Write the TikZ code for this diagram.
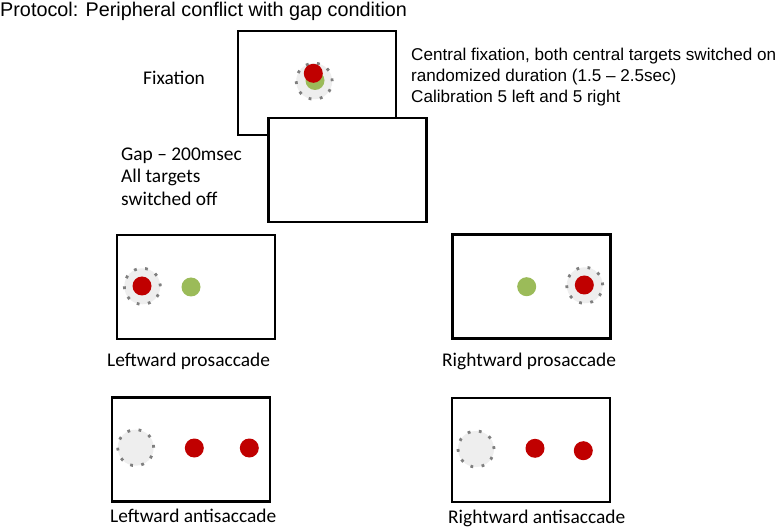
\documentclass[tikz,border=0pt]{standalone}
\usepackage{fontspec}
\setmainfont{Liberation Sans}
\newfontfamily\slidefont[Ligatures=TeX]{Carlito}
\usetikzlibrary{positioning}

\definecolor{tgtred}{HTML}{C00000}
\definecolor{tgtgreen}{HTML}{9BBB59}
\definecolor{spotgray}{HTML}{EEEEEE}
\definecolor{dotgray}{HTML}{7F7F7F}

\tikzset{
  screen/.style={draw, line width=2.8pt, fill=white, minimum width=158pt, minimum height=104pt, inner sep=0pt},
  redtgt/.style={circle, fill=tgtred, minimum size=19pt, inner sep=0pt},
  greentgt/.style={circle, fill=tgtgreen, minimum size=19pt, inner sep=0pt},
  gazespot/.style={circle, fill=spotgray, draw=dotgray, line width=2.8pt, dash pattern=on 2.8pt off 8.5pt, minimum size=36pt, inner sep=0pt},
  headline/.style={inner sep=0pt, anchor=base west, font=\fontsize{19.8}{24}\selectfont},
  notes/.style={inner sep=0pt, anchor=north west, align=left, font=\fontsize{17.1}{21}\selectfont},
  caption/.style={inner sep=0pt, anchor=base west, align=left, font=\slidefont\fontsize{19.4}{22.5}\selectfont}
}

\begin{document}
\begin{tikzpicture}[x=1pt,y=-1pt]
  \useasboundingbox (0,0) rectangle (777,529);

  \node[headline] (protocol) at (0,17) {Protocol: Peripheral conflict with gap condition};

  % fixation screen
  \node[screen] (fixscreen) at (317,83) {};
  \node[gazespot] (fixspot) at (314.2,81.2) {};
  \node[greentgt] (fixgreen) at (315,80.5) {};
  \node[redtgt] (fixred) at (313.3,73.3) {};
  \node[caption] (fixtext) at (143,85) {Fixation};
  \node[notes] (fixnotes) at (411,47.5) {Central fixation, both central targets switched on\\randomized duration (1.5 -- 2.5sec)\\Calibration 5 left and 5 right};

  % gap screen
  \node[screen] (gapscreen) at (347.5,170) {};
  \node[caption, anchor=north west] (gaptext) at (121,147.3) {Gap -- 200msec\\All targets\\switched off};

  % prosaccades
  \node[screen] (lproscreen) at (196,287) {};
  \node[gazespot] (lprospot) at (142.3,286.3) {};
  \node[redtgt] (lprored) at (142,286) {};
  \node[greentgt] (lprogreen) at (191,287) {};
  \node[caption] (lprotext) at (107,367) {Leftward prosaccade};

  \node[screen] (rproscreen) at (531.5,286.5) {};
  \node[gazespot] (rprospot) at (584.7,285.3) {};
  \node[redtgt] (rprored) at (584.3,285) {};
  \node[greentgt] (rprogreen) at (526.7,286.7) {};
  \node[caption] (rprotext) at (442,367) {Rightward prosaccade};

  % antisaccades
  \node[screen] (lantiscreen) at (191,449.5) {};
  \node[gazespot] (lantispot) at (135.7,447.7) {};
  \node[redtgt] (lantired) at (194.3,448) {};
  \node[redtgt] (lantifar) at (249.3,448) {};
  \node[caption] (lantitext) at (110,522) {Leftward antisaccade};

  \node[screen] (rantiscreen) at (531,450) {};
  \node[gazespot] (rantispot) at (476,449) {};
  \node[redtgt] (rantired) at (535,448.3) {};
  \node[redtgt] (rantifar) at (583.3,450.7) {};
  \node[caption] (rantitext) at (448,523) {Rightward antisaccade};
\end{tikzpicture}
\end{document}
